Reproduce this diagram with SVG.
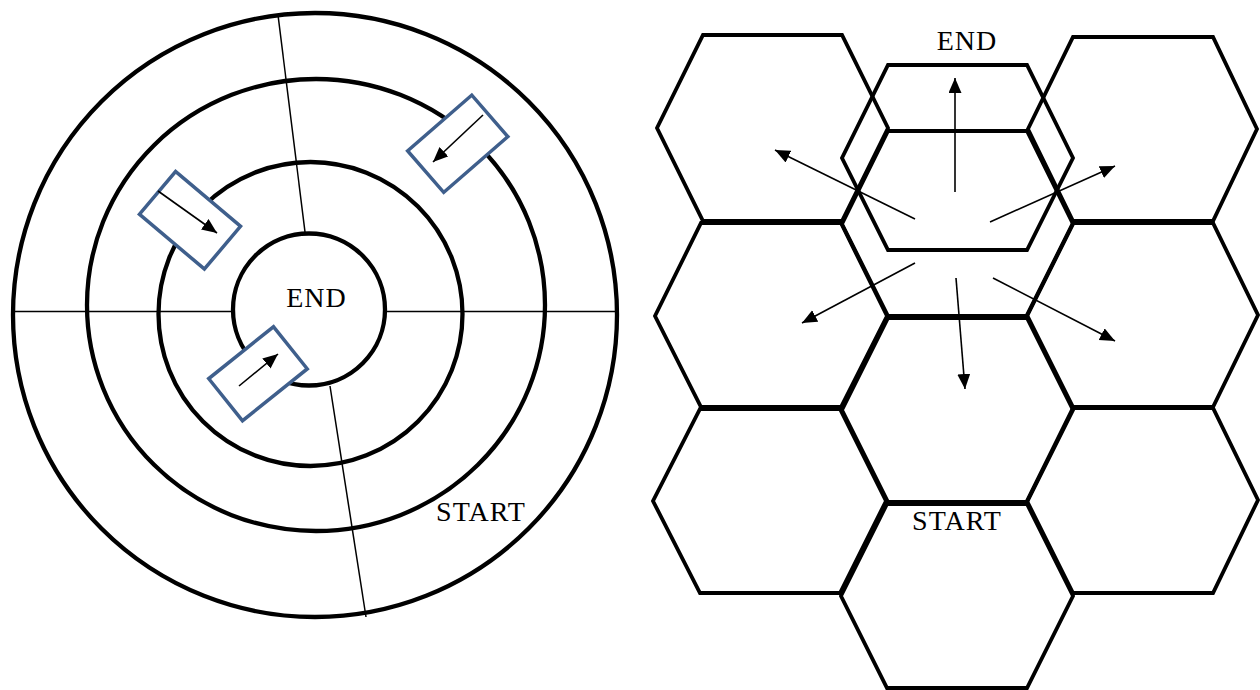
<svg xmlns="http://www.w3.org/2000/svg" width="1260" height="690" viewBox="0 0 1260 690">
<style>
.ring{fill:none;stroke:#000;stroke-width:4.3}
.thin{fill:none;stroke:#000;stroke-width:1.5}
.box{fill:#fff;stroke:#3f5f8c;stroke-width:3.5}
.arr{fill:none;stroke:#000;stroke-width:1.6;marker-end:url(#ah)}
.hex{fill:none;stroke:#000;stroke-width:3.8;stroke-linejoin:miter}
.lbl{font-family:"Liberation Serif","Times New Roman",serif;font-size:28px;letter-spacing:1px;fill:#000;text-anchor:middle}
</style>
<defs>
<marker id="ah" markerUnits="userSpaceOnUse" markerWidth="16" markerHeight="14" refX="15" refY="6.5" orient="auto">
<path d="M0,0 L15,6.5 L0,13 z" fill="#000"/>
</marker>
</defs>
<rect width="1260" height="690" fill="#fff"/>

<g id="rings">
<g id="ring-outer"><circle class="ring" cx="315" cy="315" r="302"/></g>
<g id="ring-2"><ellipse class="ring" cx="316" cy="305" rx="229" ry="226"/></g>
<g id="ring-3"><circle class="ring" cx="310.5" cy="314" r="152"/></g>
<g id="ring-end"><circle class="ring" cx="309" cy="309.5" r="76"/></g>
</g>

<g id="dividers">
<line class="thin" x1="13" y1="311.5" x2="233" y2="311.5"/>
<line class="thin" x1="385" y1="311.5" x2="617" y2="311.5"/>
<line class="thin" x1="278" y1="15" x2="305" y2="232"/>
<line class="thin" x1="330" y1="386" x2="366" y2="617"/>
</g>

<g id="car-a">
<rect class="box" x="-42.5" y="-28" width="85" height="56" transform="translate(190 220.25) rotate(40.2)"/>
<line class="arr" x1="158" y1="191" x2="217" y2="233"/>
</g>
<g id="car-b">
<rect class="box" x="-42.5" y="-27.5" width="85" height="55" transform="translate(457.75 143.75) rotate(-41)"/>
<line class="arr" x1="483" y1="115" x2="433" y2="162"/>
</g>
<g id="car-c">
<rect class="box" x="-41.5" y="-27" width="83" height="54" transform="translate(258 373.75) rotate(-38.7)"/>
<line class="arr" x1="239" y1="386" x2="278" y2="354"/>
</g>

<g id="left-labels">
<text class="lbl" x="316.5" y="307">END</text>
<text class="lbl" x="481" y="521">START</text>
</g>

<g id="hex-grid">
<g id="hex-l1"><polygon class="hex" points="703,35 842,35 888,128 842,221 703,221 657,128"/></g>
<g id="hex-l2"><polygon class="hex" points="701,223 841,223 887,316 841,407 701,407 655,316"/></g>
<g id="hex-l3"><polygon class="hex" points="700,409 840,409 886,501 840,593 700,593 653,501"/></g>
<g id="hex-end"><polygon class="hex" points="888,65 1027,65 1073,158 1027,250 888,250 842,158"/></g>
<g id="hex-m2"><polygon class="hex" points="888,131 1027,131 1073,224 1027,316 888,316 842,224"/></g>
<g id="hex-m3"><polygon class="hex" points="888,318 1027,318 1073,410 1027,502 888,502 842,410"/></g>
<g id="hex-start"><polygon class="hex" points="887,504 1027,504 1073,596 1027,688 887,688 841,596"/></g>
<g id="hex-r1"><polygon class="hex" points="1073,37 1213,37 1257,129 1213,221 1073,221 1028,129"/></g>
<g id="hex-r2"><polygon class="hex" points="1073,223 1213,223 1258,315 1213,407 1073,407 1027,315"/></g>
<g id="hex-r3"><polygon class="hex" points="1073,408 1213,408 1258,500 1213,593 1073,593 1027,501"/></g>
</g>

<g id="connectors">
<line class="arr" x1="955" y1="192" x2="955" y2="78"/>
<line class="arr" x1="915" y1="219" x2="775" y2="150"/>
<line class="arr" x1="990" y1="222" x2="1115" y2="166"/>
<line class="arr" x1="915" y1="263" x2="802" y2="323"/>
<line class="arr" x1="956" y1="278" x2="965" y2="389"/>
<line class="arr" x1="993" y1="278" x2="1115" y2="341"/>
</g>

<g id="hex-labels">
<text class="lbl" x="967" y="50">END</text>
<text class="lbl" x="957" y="530">START</text>
</g>
</svg>
